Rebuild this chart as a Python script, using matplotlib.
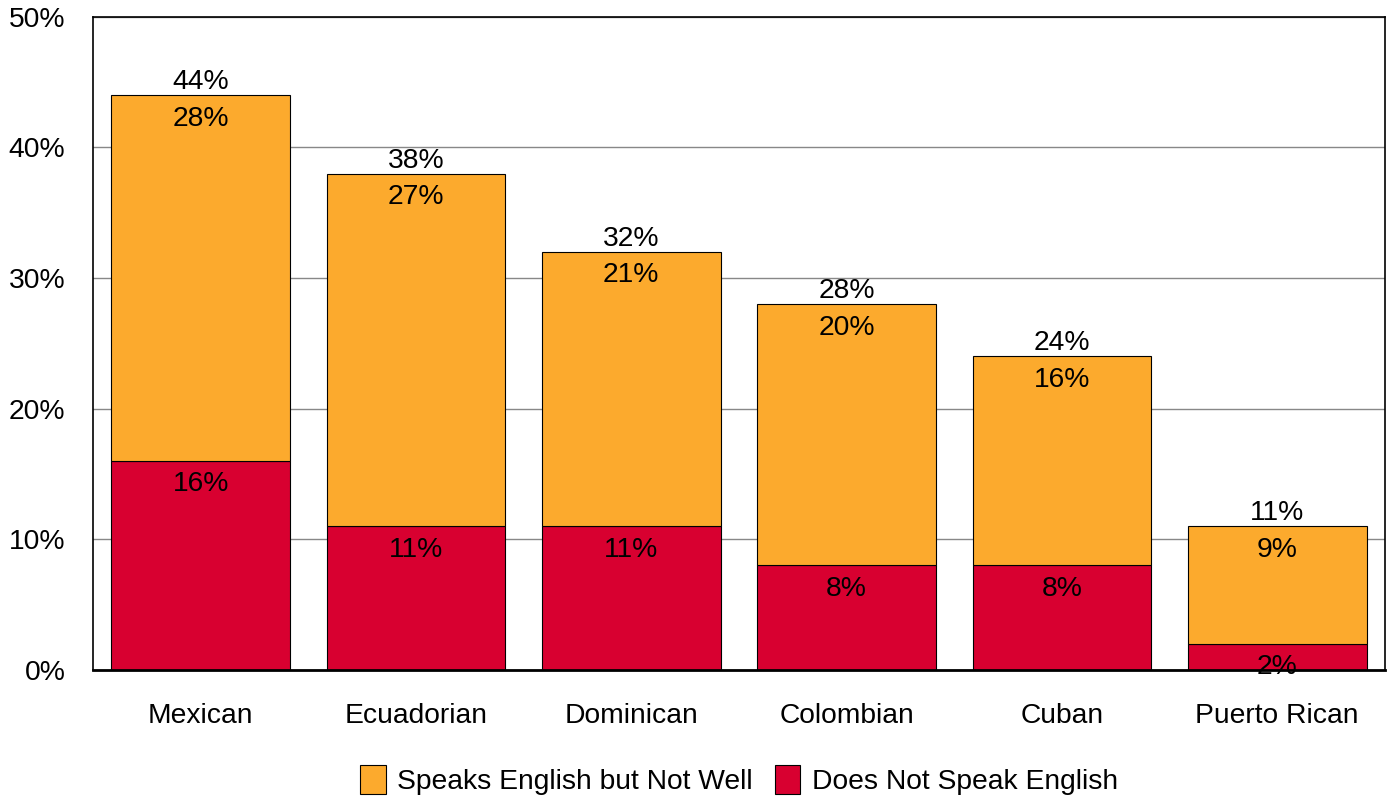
import matplotlib.pyplot as plt
from matplotlib.ticker import FuncFormatter

plt.rcParams['font.family'] = ['Liberation Sans', 'DejaVu Sans']

groups = ['Mexican', 'Ecuadorian', 'Dominican', 'Colombian', 'Cuban', 'Puerto Rican']
no_english = [16, 11, 11, 8, 8, 2]
not_well = [28, 27, 21, 20, 16, 9]
totals = [44, 38, 32, 28, 24, 11]

orange = '#FCAA2D'
red = '#D80030'

fig = plt.figure(figsize=(13.89, 8), dpi=100)
ax = fig.add_axes([0.067, 0.1625, 0.93, 0.8165])

x = range(len(groups))
b1 = ax.bar(x, no_english, width=0.83, color=red, edgecolor='black', linewidth=0.8,
            label='Does Not Speak English', zorder=2)
b2 = ax.bar(x, not_well, width=0.83, bottom=no_english, color=orange, edgecolor='black',
            linewidth=0.8, label='Speaks English but Not Well', zorder=2)

fs = 20.3
for i in x:
    ax.annotate(f'{no_english[i]}%', (i, no_english[i]), xytext=(0, -7.5), textcoords='offset points',
                ha='center', va='top', fontsize=fs, zorder=3)
    ax.annotate(f'{not_well[i]}%', (i, totals[i]), xytext=(0, -7.5), textcoords='offset points',
                ha='center', va='top', fontsize=fs, zorder=3)
    ax.annotate(f'{totals[i]}%', (i, totals[i]), xytext=(0, 0), textcoords='offset points',
                ha='center', va='bottom', fontsize=fs, zorder=3)

ax.set_xlim(-0.5, 5.5)
ax.set_ylim(0, 50)
ax.set_yticks(range(0, 51, 10))
ax.yaxis.set_major_formatter(FuncFormatter(lambda v, p: f'{v:.0f}%'))
ax.set_xticks(list(x))
ax.set_xticklabels(groups)
ax.tick_params(axis='both', labelsize=fs, length=0)
ax.tick_params(axis='x', pad=24)
ax.tick_params(axis='y', pad=20)
ax.yaxis.grid(True, color='#888888', linewidth=1, zorder=0)
ax.set_axisbelow(True)
for s in ['left', 'top', 'right']:
    ax.spines[s].set_linewidth(1.2)
ax.spines['bottom'].set_linewidth(2)

handles = [b2, b1]
ax.legend(handles, [h.get_label() for h in handles], loc='center', bbox_to_anchor=(0.5, -0.168),
          ncol=2, frameon=False, fontsize=fs, handlelength=0.9, handleheight=1.2,
          handletextpad=0.4, columnspacing=0.8)

fig.savefig('out.png', dpi=100)
